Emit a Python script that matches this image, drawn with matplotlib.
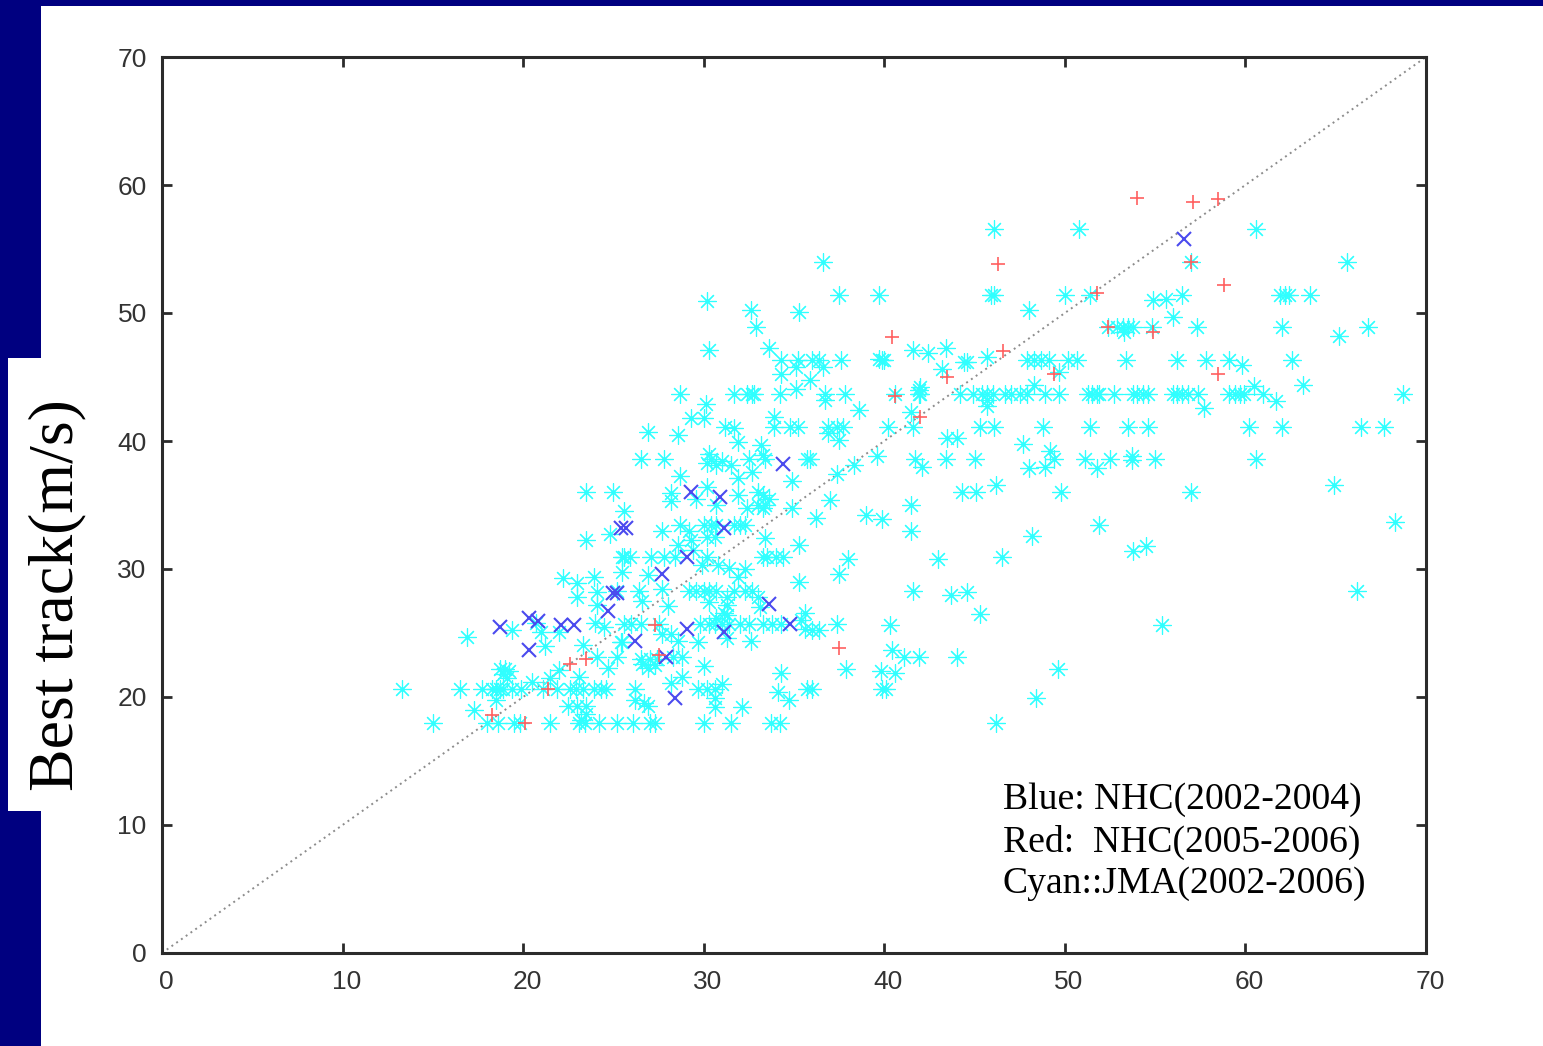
import matplotlib
matplotlib.use('Agg')
from matplotlib import pyplot as plt
from matplotlib.patches import Rectangle
from matplotlib.transforms import ScaledTranslation

# JMA points, top to bottom
cyan_x = [46.1, 50.8, 60.6,
          36.6, 57.0, 65.6,
          37.5, 39.7, 45.9, 46.1, 50.0, 51.4, 56.5, 61.9, 62.2, 62.4, 63.6,
          54.9, 55.6, 30.2, 32.6, 35.3, 48.0, 56.0, 65.2,
          32.9, 52.4, 52.9, 53.2, 53.5, 53.8, 53.3, 54.8, 57.3, 62.0, 66.8,
          30.3, 33.6, 41.6, 42.4, 43.4, 45.7, 43.2,
          34.3, 35.2, 35.1, 36.0, 36.4, 36.6, 37.6, 39.7, 39.9, 40.0, 44.4, 44.6,
          47.9, 48.3, 48.7, 49.1, 50.2, 50.7, 49.7, 53.4, 56.2, 57.8, 59.1, 59.8, 62.6,
          34.3, 35.9, 35.1, 60.5, 63.2, 41.9, 42.0,
          28.7, 31.7, 32.4, 32.7, 32.8, 34.2, 36.7, 37.8, 40.6, 41.9, 42.0, 44.2, 44.9,
          45.4, 45.7, 46.0, 46.7, 47.0, 47.5, 47.9, 48.3, 48.9, 49.7, 51.3, 51.5, 51.8,
          51.9, 52.7, 53.8, 54.0, 54.3, 54.6, 56.0, 56.2, 56.5, 56.8, 57.4, 59.1, 59.4,
          59.7, 59.9, 61.0, 68.7,
          36.7, 45.7, 45.7, 61.7, 57.7, 30.1, 38.6, 41.5, 33.9, 29.3, 30.0,
          26.9, 28.6, 31.2, 31.7, 33.9, 34.8, 35.2, 36.9, 37.4, 37.7, 40.2, 41.6, 45.3,
          46.1, 48.8, 51.4, 53.5, 54.6, 60.2, 62.0, 66.4, 67.7, 36.9,
          31.9, 33.2, 37.5, 43.5, 44.0, 47.7,
          26.5, 27.8, 30.3, 30.4, 31.0, 33.3, 32.5, 33.4, 35.7, 35.9, 39.6, 41.7, 43.4,
          45.0, 49.2, 49.4, 51.1, 52.5, 53.7, 53.7, 55.0, 60.6,
          30.2, 30.7, 31.5, 32.7, 38.3, 42.1, 48.9, 51.8, 48.0, 37.4, 34.9, 31.9, 28.7,
          64.9, 46.2, 23.5, 25.0, 28.2, 28.2, 30.2, 29.6, 30.7, 31.9, 33.0, 33.3, 33.4,
          33.0, 33.6, 33.3, 32.4, 37.0, 34.9, 44.3, 45.1, 49.8, 57.0, 25.6, 36.2, 39.0,
          39.9, 41.5, 41.5, 68.3, 51.9,
          27.7, 28.7, 29.2, 30.0, 30.4, 30.7, 30.2, 30.6, 31.7, 32.0, 32.3, 28.6, 29.3,
          29.4, 33.4, 35.3, 23.5, 24.8, 48.2, 53.8, 54.5,
          25.5, 25.6, 25.9, 27.1, 27.8, 28.4, 30.2, 29.9, 30.8, 31.4, 33.3, 33.5, 34.0,
          34.4, 38.0, 46.5, 43.0,
          26.9, 25.5, 32.3, 31.9, 37.5, 22.2, 23.0, 23.9, 35.3, 23.0, 24.1, 24.1, 25.2,
          27.7, 29.2, 29.6, 30.0, 30.3, 30.7, 30.3, 31.3, 31.3, 31.7, 32.3, 32.7, 33.0,
          33.1, 26.4, 26.6, 28.0, 41.6, 43.7, 44.6, 66.2, 45.3, 35.6, 31.3, 35.4,
          24.0, 24.5, 25.6, 19.4, 20.7, 21.0, 22.0, 26.0, 26.5, 27.5, 29.8, 30.3, 30.6,
          31.0, 31.4, 32.0, 32.5, 33.3, 33.8, 34.3, 37.4, 40.3, 55.4, 30.7, 31.1,
          35.6, 36.0, 36.4, 27.7, 28.2, 16.9, 28.6, 29.7, 32.6, 31.3, 25.5, 21.2, 23.3,
          25.4, 40.4,
          24.1, 25.2, 24.7, 26.5, 27.0, 27.4, 26.6, 26.9, 27.3, 28.3, 28.8, 41.1, 41.9,
          44.0, 30.0, 18.7, 19.0, 18.9, 19.1, 19.2, 22.0, 34.3, 37.9, 39.8, 40.6, 49.6,
          21.5, 23.1, 20.5, 28.2, 28.8, 31.0,
          13.3, 16.5, 17.7, 18.3, 18.5, 18.7, 18.9, 19.4, 19.9, 21.1, 21.9, 22.6, 22.9,
          23.3, 23.9, 24.3, 24.6, 26.2, 29.7, 30.2, 30.6, 35.7, 36.0, 39.9, 40.1, 34.1,
          18.5, 26.2, 26.7, 26.9, 30.6, 34.7, 48.4, 17.3, 22.5, 23.0, 23.5, 30.6, 32.1,
          23.5, 23.2,
          15.0, 18.0, 18.6, 19.5, 19.8, 21.5, 23.1, 23.4, 24.2, 25.2, 26.1, 27.0, 27.3,
          30.0, 31.5, 33.7, 34.2, 46.2]
cyan_y = [56.6, 56.6, 56.6,
          54.0, 54.0, 54.0,
          51.4, 51.4, 51.4, 51.4, 51.4, 51.4, 51.4, 51.4, 51.4, 51.4, 51.4,
          51.0, 51.1, 50.9, 50.2, 50.1, 50.2, 49.7, 48.2,
          48.9, 48.9, 48.9, 48.9, 48.9, 48.9, 48.5, 48.9, 48.9, 48.9, 48.9,
          47.1, 47.3, 47.1, 46.9, 47.3, 46.6, 45.6,
          46.3, 46.3, 45.8, 46.3, 46.3, 45.8, 46.3, 46.4, 46.3, 46.3, 46.2, 46.2,
          46.3, 46.3, 46.3, 46.3, 46.3, 46.3, 45.4, 46.3, 46.3, 46.3, 46.3, 45.9, 46.3,
          45.2, 44.8, 44.1, 44.3, 44.4, 44.0, 44.2,
          43.7, 43.7, 43.7, 43.7, 43.7, 43.7, 43.7, 43.7, 43.7, 43.7, 43.7, 43.7, 43.7,
          43.7, 43.7, 43.7, 43.7, 43.7, 43.7, 43.7, 44.4, 43.7, 43.7, 43.7, 43.7, 43.7,
          43.7, 43.7, 43.7, 43.7, 43.7, 43.7, 43.7, 43.7, 43.7, 43.7, 43.7, 43.7, 43.7,
          43.7, 43.7, 43.7, 43.7,
          43.2, 43.2, 42.7, 43.1, 42.6, 42.9, 42.4, 42.3, 41.9, 41.8, 41.8,
          40.7, 40.5, 41.1, 41.0, 41.1, 41.1, 41.1, 41.1, 41.1, 41.1, 41.1, 41.1, 41.1,
          41.1, 41.1, 41.1, 41.1, 41.1, 41.1, 41.1, 41.1, 41.1, 40.6,
          39.9, 39.7, 40.1, 40.2, 40.2, 39.8,
          38.6, 38.6, 39.0, 38.6, 38.4, 38.9, 38.6, 38.6, 38.6, 38.6, 38.8, 38.6, 38.6,
          38.6, 39.2, 38.6, 38.6, 38.6, 38.8, 38.5, 38.6, 38.6,
          38.3, 38.1, 38.1, 37.6, 38.1, 38.0, 38.0, 37.9, 37.9, 37.4, 36.9, 37.1, 37.3,
          36.6, 36.6, 36.0, 36.0, 35.9, 35.3, 36.4, 35.5, 35.0, 35.8, 36.0, 35.8, 35.0,
          35.0, 35.5, 34.8, 34.8, 35.4, 34.8, 36.0, 36.0, 36.0, 36.0, 34.5, 34.0, 34.2,
          33.9, 35.0, 33.0, 33.7, 33.4,
          33.0, 33.4, 33.0, 33.4, 33.4, 33.4, 32.5, 32.5, 33.4, 33.4, 33.4, 31.9, 32.3,
          31.5, 32.4, 31.9, 32.3, 32.7, 32.6, 31.4, 31.8,
          30.9, 30.9, 30.9, 30.9, 30.9, 30.9, 30.9, 30.3, 30.3, 30.1, 30.9, 30.9, 30.9,
          30.9, 30.8, 30.9, 30.8,
          29.5, 29.8, 30.0, 29.4, 29.6, 29.3, 28.9, 29.4, 29.0, 27.8, 28.2, 27.2, 28.3,
          28.4, 28.3, 28.3, 28.3, 28.3, 28.3, 27.4, 27.8, 27.2, 28.3, 28.3, 28.3, 27.8,
          27.0, 28.3, 27.5, 27.1, 28.3, 28.0, 28.2, 28.3, 26.5, 26.6, 26.4, 26.0,
          25.8, 25.5, 25.7, 25.2, 25.8, 25.1, 25.1, 25.7, 25.7, 25.7, 25.7, 25.7, 25.7,
          25.7, 25.7, 25.7, 25.7, 25.7, 25.7, 25.7, 25.7, 25.6, 25.6, 26.2, 26.6,
          25.3, 25.2, 25.2, 24.9, 24.9, 24.7, 24.4, 24.3, 24.4, 24.6, 24.3, 24.0, 24.1,
          24.3, 23.7,
          23.1, 23.1, 22.3, 23.0, 23.0, 23.0, 22.6, 22.3, 22.5, 23.1, 23.1, 23.1, 23.1,
          23.1, 22.4, 22.2, 22.2, 21.8, 21.5, 22.0, 22.1, 21.9, 22.2, 22.0, 21.9, 22.2,
          21.5, 21.6, 21.2, 21.1, 21.6, 21.0,
          20.6, 20.6, 20.6, 20.6, 20.6, 20.6, 20.6, 20.6, 20.6, 20.6, 20.6, 20.6, 20.6,
          20.6, 20.6, 20.6, 20.6, 20.6, 20.6, 20.6, 20.6, 20.6, 20.6, 20.6, 20.6, 20.4,
          19.8, 19.8, 19.5, 19.3, 19.9, 19.8, 19.9, 19.0, 19.3, 19.3, 19.3, 19.2, 19.2,
          18.7, 18.2,
          18.0, 18.0, 18.0, 18.0, 18.0, 18.0, 18.0, 18.0, 18.0, 18.0, 18.0, 18.0, 18.0,
          18.0, 18.0, 18.0, 18.0, 18.0]

# NHC 2002-2004
blue_x = [56.6, 34.4, 29.3, 30.9, 25.4, 25.7, 31.1, 29.1, 27.7, 33.6, 25.0, 25.2, 24.7,
          18.7, 20.3, 20.8, 22.1, 22.8, 20.3, 26.2, 29.1, 31.1, 34.8, 27.9, 28.4]
blue_y = [55.8, 38.2, 36.0, 35.6, 33.2, 33.2, 33.2, 30.9, 29.6, 27.3, 28.1, 28.1, 26.7,
          25.5, 26.2, 25.9, 25.6, 25.6, 23.7, 24.4, 25.3, 25.1, 25.7, 23.1, 19.9]

# NHC 2005-2006
red_x = [54.0, 57.1, 58.5, 57.0, 46.3, 58.8, 51.8, 52.4, 54.9, 40.4, 46.6, 49.4,
         58.5, 43.5, 40.6, 42.0, 37.5, 27.3, 27.5, 22.6, 23.5, 21.4, 18.3, 20.1]
red_y = [59.0, 58.7, 58.9, 54.0, 53.8, 52.2, 51.6, 48.9, 48.5, 48.1, 47.0, 45.2,
         45.2, 45.0, 43.5, 41.9, 23.8, 25.6, 23.3, 22.6, 23.0, 20.6, 18.6, 18.0]

ticks = [0, 10, 20, 30, 40, 50, 60, 70]
legend_lines = ['Blue: NHC(2002-2004)', 'Red:  NHC(2005-2006)', 'Cyan::JMA(2002-2006)']
navy = '#000080'

W, H = 1543, 1046
fig = plt.figure(figsize=(W / 100, H / 100), dpi=100)
fig.patch.set_facecolor('white')

# slide background behind the plot
fig.patches.append(Rectangle((0, 0), 41 / W, 1, transform=fig.transFigure, color=navy, lw=0, zorder=-2))
fig.patches.append(Rectangle((0, 1 - 6 / H), 1, 6 / H, transform=fig.transFigure, color=navy, lw=0, zorder=-2))
fig.patches.append(Rectangle((8 / W, 1 - 811 / H), 33 / W, 453 / H, transform=fig.transFigure, color='white', lw=0, zorder=-1))

ax = fig.add_axes([162 / W, 1 - 953 / H, (1426 - 162) / W, (953 - 57) / H])
ax.set_xlim(0, 70)
ax.set_ylim(0, 70)
ax.patch.set_alpha(0)

ax.plot([0, 70], [0, 70], ls=(0, (1, 2)), color='#8c8c8c', lw=1.4, zorder=1)
ax.plot(cyan_x, cyan_y, ls='none', marker=(8, 2, 0), ms=13, mew=0.85, color='#30ffff', zorder=2)
ax.plot(blue_x, blue_y, ls='none', marker='x', ms=10, mew=1.5, color='#4a4aee', zorder=3)
ax.plot(red_x, red_y, ls='none', marker='+', ms=10, mew=1.2, color='#ff6060', zorder=4)

ax.set_xticks(ticks)
ax.set_yticks(ticks)
ax.tick_params(which='both', direction='in', top=True, right=True, length=7.5, width=2.0,
               color='#2b2b2b', labelcolor='#333333', labelsize=19)
ax.tick_params(axis='x', pad=12)
ax.tick_params(axis='y', pad=11)
for lab in ax.get_xticklabels() + ax.get_yticklabels():
    lab.set_fontfamily('Liberation Sans')
shift = ScaledTranslation(4 / 100, 0, fig.dpi_scale_trans)
for lab in ax.get_xticklabels():
    lab.set_transform(lab.get_transform() + shift)
for side in ax.spines.values():
    side.set_linewidth(2.2)
    side.set_color('#2b2b2b')

fig.text(57 / W, 1 - 595 / H, 'Best track(m/s)', rotation=90, family='Liberation Serif',
         fontsize=46, color='black', ha='center', va='center')
for line, py in zip(legend_lines, [800, 842, 884]):
    fig.text(1003 / W, 1 - py / H, line, family='Liberation Serif', fontsize=27.1,
             color='black', ha='left', va='center')

fig.savefig('out.png', dpi=100)
